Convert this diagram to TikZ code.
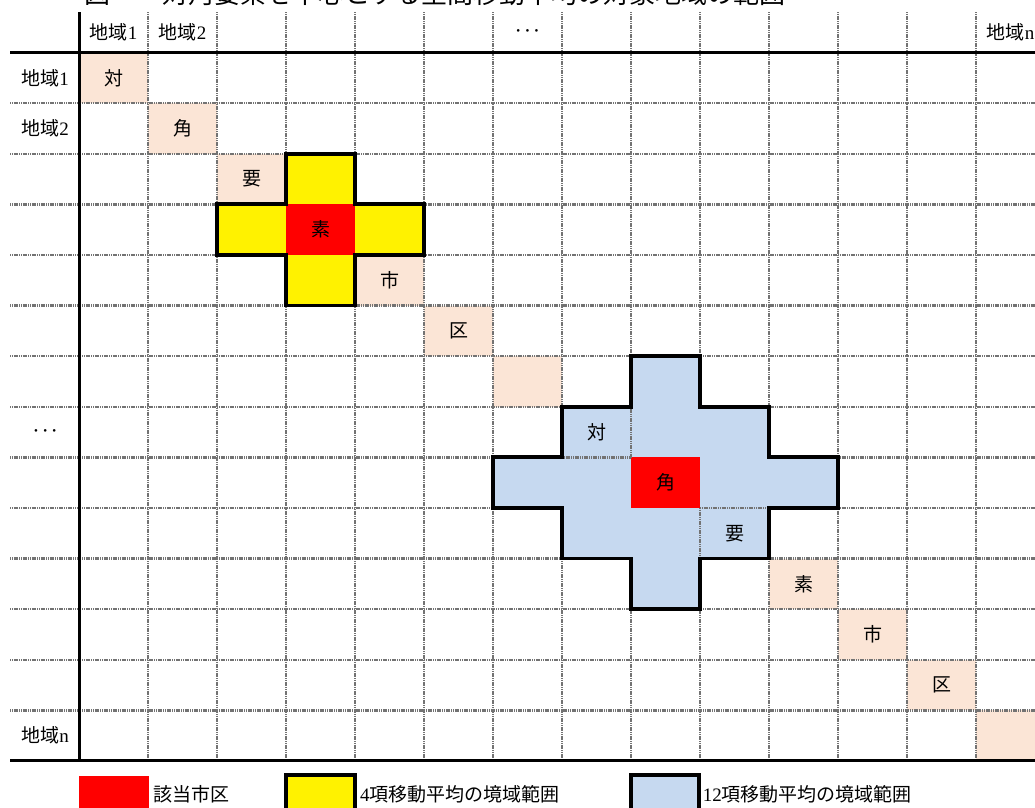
\documentclass[tikz,border=0pt]{standalone}
\usepackage{fontspec}
\setmainfont{Liberation Serif}
\newfontfamily\jp{Noto Sans CJK JP}
\definecolor{peach}{HTML}{FBE5D6}
\definecolor{lblue}{HTML}{C6D9F0}
\newcommand\ycrosspath{(3,2)--(4,2)--(4,3)--(5,3)--(5,4)--(4,4)--(4,5)--(3,5)--(3,4)--(2,4)--(2,3)--(3,3)--cycle}
\newcommand\bcrosspath{(8,6)--(9,6)--(9,7)--(10,7)--(10,8)--(11,8)--(11,9)--(10,9)--(10,10)--(9,10)--(9,11)--(8,11)--(8,10)--(7,10)--(7,9)--(6,9)--(6,8)--(7,8)--(7,7)--(8,7)--cycle}
\newcommand\tridots{{\fontsize{11}{11}\selectfont •\hspace{5.3pt}•\hspace{5.3pt}•}}
\begin{document}
\begin{tikzpicture}[x=1pt,y=-1pt,
  gridline/.style={black!55, line width=2.4pt, dash pattern=on 1.2pt off 0.6pt},
  axis/.style={black, line width=3pt},
  outline/.style={black, line width=3.8pt, line join=miter},
  cell/.style={inner sep=0pt, font=\fontsize{19}{19}\selectfont\jp},
  lbl/.style={inner sep=0pt, font=\fontsize{19}{19}\selectfont},
  legtext/.style={inner sep=0pt, anchor=west, font=\fontsize{19}{19}\selectfont},
]
\useasboundingbox (0,0) rectangle (1035,807);
\clip (0,0) rectangle (1035,807);
\node[anchor=base west, inner sep=0pt, font=\jp\fontsize{26}{26}\selectfont] (title) at (84,3) {図　　対角要素を中心とする空間移動平均の対象地域の範囲};
\begin{scope}[shift={(79,52.5)}, x=69pt, y=-50.6pt]
  % diagonal cells
  \foreach \i in {1,...,14} \fill[peach] (\i-1,\i-1) rectangle (\i,\i);
  % grid
  \foreach \i in {1,...,13} \draw[gridline] (\i,-0.8) -- (\i,14);
  \foreach \j in {1,...,13} \draw[gridline] (-1,\j) -- (13.9,\j);
  \draw[axis] (-1,0) -- (13.9,0);
  \draw[axis] (-1,14) -- (13.9,14);
  \draw[axis] (0,-0.8) -- (0,14);
  % crosses
  \fill[yellow] \ycrosspath;
  \fill[lblue] \bcrosspath;
  \fill[red] (3,3) rectangle (4,4);
  \fill[red] (8,8) rectangle (9,9);
  \draw[gridline] (8,7) -- (8,8);
  \draw[gridline] (7,8) -- (8,8);
  \draw[gridline] (9,9) -- (10,9);
  \draw[gridline] (9,9) -- (9,10);
  \draw[outline] \ycrosspath;
  \draw[outline] \bcrosspath;
  % diagonal texts
  \node[cell] (d1) at (0.5,0.5) {対};
  \node[cell] (d2) at (1.5,1.5) {角};
  \node[cell] (d3) at (2.5,2.5) {要};
  \node[cell] (d4) at (3.5,3.5) {素};
  \node[cell] (d5) at (4.5,4.5) {市};
  \node[cell] (d6) at (5.5,5.5) {区};
  \node[cell] (d8) at (7.5,7.5) {対};
  \node[cell] (d9) at (8.5,8.5) {角};
  \node[cell] (d10) at (9.5,9.5) {要};
  \node[cell] (d11) at (10.5,10.5) {素};
  \node[cell] (d12) at (11.5,11.5) {市};
  \node[cell] (d13) at (12.5,12.5) {区};
  % headers
  \node[lbl] (h1) at (0.5,-0.4) {{\jp 地域}1};
  \node[lbl] (h2) at (1.5,-0.4) {{\jp 地域}2};
  \node[lbl] (h7) at (6.5,-0.4) {\tridots};
  \node[lbl] (h14) at (13.5,-0.4) {{\jp 地域}n};
  \node[lbl] (l1) at (-0.49,0.5) {{\jp 地域}1};
  \node[lbl] (l2) at (-0.49,1.5) {{\jp 地域}2};
  \node[lbl] (l8) at (-0.49,7.5) {\tridots};
  \node[lbl] (l14) at (-0.49,13.5) {{\jp 地域}n};
  % legend
  \fill[red] (0,14.3) rectangle (1.01,15.2);
  \filldraw[fill=yellow, draw=black, line width=4pt] (3,14.27) rectangle (4,15.2);
  \filldraw[fill=lblue, draw=black, line width=4pt] (8,14.27) rectangle (8.98,15.2);
  \node[legtext] (t1) at (1.07,14.65) {{\jp 該当市区}};
  \node[legtext] (t2) at (4.07,14.65) {4{\jp 項移動平均の境域範囲}};
  \node[legtext] (t3) at (9.04,14.65) {12{\jp 項移動平均の境域範囲}};
\end{scope}
\end{tikzpicture}
\end{document}
